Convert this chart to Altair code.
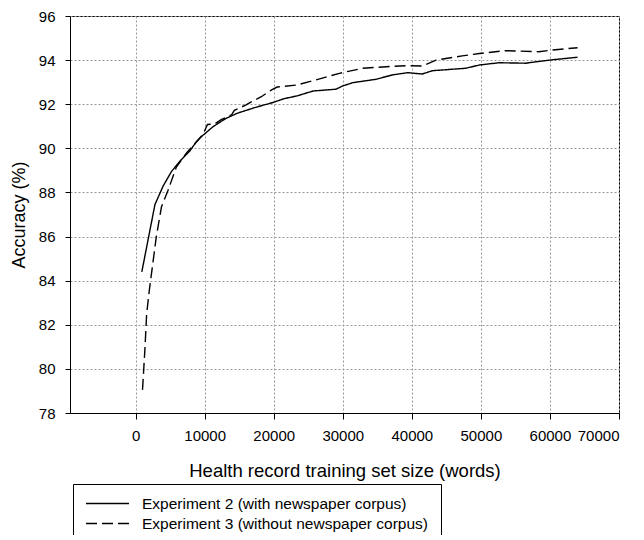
import altair as alt
import pandas as pd

# Experiment 2 (with newspaper corpus) - solid
exp2_x = [900, 2800, 4000, 5200, 6500, 7850, 8800, 9600, 11200, 13100, 14800, 17400,
          19900, 21500, 23400, 25700, 29000, 30000, 31500, 34800, 37200, 39400, 41500,
          43000, 47800, 49800, 52600, 56500, 59900, 64000]
exp2_y = [84.4, 87.45, 88.3, 88.95, 89.45, 89.88, 90.3, 90.55, 90.98, 91.36, 91.6, 91.86,
          92.08, 92.25, 92.38, 92.6, 92.68, 92.83, 92.98, 93.13, 93.33, 93.43, 93.37,
          93.52, 93.63, 93.78, 93.88, 93.86, 94.0, 94.13]

# Experiment 3 (without newspaper corpus) - dashed
exp3_x = [1000, 1350, 1600, 2000, 3000, 3750, 4700, 5900, 7400, 8700, 9800, 10400, 11400,
          12400, 13900, 14300, 16000, 16800, 18200, 19700, 20500, 23300, 26100, 29500,
          32900, 36300, 39400, 41500, 43500, 47300, 49800, 53600, 58400, 60400, 64000]
exp3_y = [79.05, 80.9, 82.5, 83.6, 86.0, 87.35, 88.1, 89.15, 89.8, 90.25, 90.65, 91.08, 91.1,
          91.3, 91.52, 91.72, 91.97, 92.12, 92.34, 92.65, 92.78, 92.87, 93.1, 93.4,
          93.63, 93.7, 93.75, 93.73, 94.0, 94.19, 94.3, 94.43, 94.38, 94.46, 94.56]

series_names = ["Experiment 2 (with newspaper corpus)",
                "Experiment 3 (without newspaper corpus)"]
x_ticks = [0, 10000, 20000, 30000, 40000, 50000, 60000, 70000]
y_ticks = [78, 80, 82, 84, 86, 88, 90, 92, 94, 96]

rows = []
for xv, yv in zip(exp2_x, exp2_y):
    rows.append({"x": xv, "y": yv, "series": series_names[0]})
for xv, yv in zip(exp3_x, exp3_y):
    rows.append({"x": xv, "y": yv, "series": series_names[1]})
df = pd.DataFrame(rows)

FONT = "Liberation Sans"

chart = alt.Chart(df).mark_line(color="black", strokeWidth=1.4).encode(
    x=alt.X("x:Q",
            scale=alt.Scale(domain=[-9500, 70000], nice=False, zero=False),
            axis=alt.Axis(values=x_ticks, format="d",
                          title="Health record training set size (words)",
                          tickSize=6, labelPadding=9, titlePadding=18,
                          labelFontSize=15, titleFontSize=18.5,
                          titleFontWeight="normal",
                          gridDash=[2, 2], gridColor="#999999")),
    y=alt.Y("y:Q",
            scale=alt.Scale(domain=[78, 96], nice=False, zero=False),
            axis=alt.Axis(values=y_ticks, title="Accuracy (%)",
                          tickSize=5, labelPadding=10, titlePadding=10,
                          labelFontSize=15, titleFontSize=18,
                          titleFontWeight="normal",
                          gridDash=[2, 2], gridColor="#999999")),
    strokeDash=alt.StrokeDash("series:N",
                              scale=alt.Scale(domain=series_names,
                                              range=[[1, 0], [11, 5]]),
                              legend=alt.Legend(title=None, orient="none",
                                                legendX=3, legendY=468,
                                                strokeColor="black",
                                                fillColor="white",
                                                padding=12,
                                                labelFontSize=15.5,
                                                labelFont=FONT,
                                                labelColor="black",
                                                labelOffset=12,
                                                labelLimit=400,
                                                rowPadding=4,
                                                clipHeight=15,
                                                symbolType="stroke",
                                                symbolSize=1850,
                                                symbolStrokeWidth=1.3,
                                                symbolStrokeColor="black",
                                                cornerRadius=0)),
    order="x:Q",
).properties(
    width=549,
    height=397,
    autosize=alt.AutoSizeParams(type="none"),
    padding={"left": 62, "top": 8, "right": 17, "bottom": 122},
).configure_view(
    stroke="black", strokeWidth=1
).configure_axis(
    labelFont=FONT, titleFont=FONT, labelColor="black", titleColor="black",
    domainColor="black", tickColor="black", gridOpacity=1
)

chart.save("out.html", embed_options={"renderer": "svg", "actions": False})
